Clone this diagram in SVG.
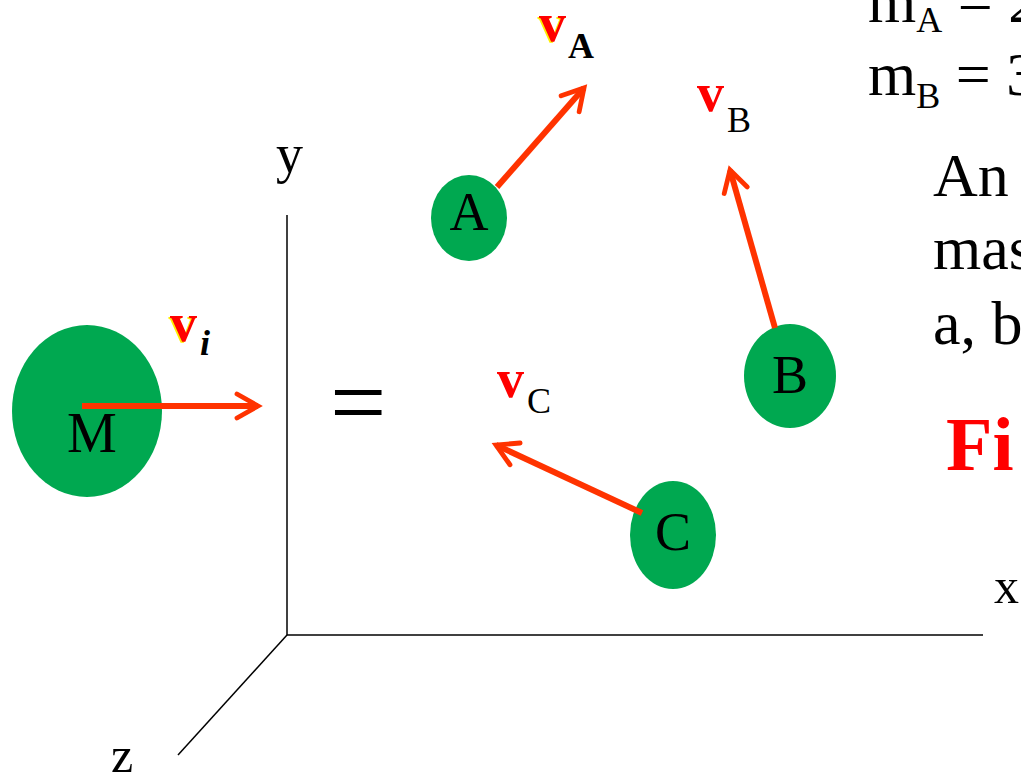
<svg xmlns="http://www.w3.org/2000/svg" width="1021" height="774" viewBox="0 0 1021 774">
<style>
.t{font-family:"Liberation Serif","Times New Roman",serif;fill:#000}
.ax{stroke:#000;stroke-width:1.5;fill:none}
.node{fill:#00A850}
.vel{stroke:#FF3300;stroke-width:6;fill:none;marker-end:url(#ah)}
.v{font-family:"Liberation Serif",serif;font-weight:bold;fill:#FF0000}
.vs{font-family:"Liberation Serif",serif;font-weight:bold;fill:#FFEE00}
</style>
<defs>
<marker id="ah" viewBox="0 0 10 10" refX="8" refY="5" markerWidth="5" markerHeight="5" orient="auto" markerUnits="strokeWidth">
<path d="M1,1 L8,5 L1,9" fill="none" stroke="#FF3300" stroke-width="1.6" stroke-linecap="round" stroke-linejoin="miter"/>
</marker>
</defs>
<rect width="1021" height="774" fill="#fff"/>
<g id="axes">
<line class="ax" x1="287" y1="215" x2="287" y2="635"/>
<line class="ax" x1="287" y1="635" x2="983" y2="635"/>
<line class="ax" x1="287" y1="635" x2="178" y2="755"/>
<text class="t" x="276" y="172" font-size="54">y</text>
<text class="t" x="994" y="603" font-size="50">x</text>
<text class="t" x="111" y="772" font-size="50">z</text>
<text class="t" x="330" y="436" font-size="100">=</text>
</g>
<g id="M">
<ellipse class="node" cx="87" cy="411" rx="75" ry="86"/>
<text class="t" x="92" y="452" font-size="56" text-anchor="middle">M</text>
</g>
<g id="A">
<ellipse class="node" cx="469" cy="218" rx="38" ry="43"/>
<text class="t" x="469" y="230" font-size="54" text-anchor="middle">A</text>
</g>
<g id="B">
<ellipse class="node" cx="790" cy="376" rx="46" ry="52"/>
<text class="t" x="790" y="393" font-size="54" text-anchor="middle">B</text>
</g>
<g id="C">
<ellipse class="node" cx="673" cy="535" rx="43" ry="54"/>
<text class="t" x="673" y="550" font-size="54" text-anchor="middle">C</text>
</g>
<g id="connectors">
<line class="vel" x1="82" y1="406" x2="258" y2="406"/>
<line class="vel" x1="497" y1="187" x2="584" y2="88"/>
<line class="vel" x1="775" y1="328" x2="730" y2="170"/>
<line class="vel" x1="642" y1="513" x2="496" y2="445"/>
</g>
<g id="labels">
<text class="vs" x="168.5" y="342" font-size="54">v</text>
<text class="v" x="170" y="341" font-size="54">v</text>
<text class="t" x="200" y="355" font-size="36" font-weight="bold" font-style="italic">i</text>
<text class="vs" x="537.5" y="42" font-size="54">v</text>
<text class="v" x="539" y="41" font-size="54">v</text>
<text class="t" x="568" y="58" font-size="36" font-weight="bold">A</text>
<text class="v" x="697" y="111" font-size="54">v</text>
<text class="t" x="727" y="132" font-size="36">B</text>
<text class="v" x="497" y="397" font-size="54">v</text>
<text class="t" x="527" y="413" font-size="36">C</text>
</g>
<g id="text">
<text class="t" x="868" y="22" font-size="62">m<tspan font-size="36" dy="10">A</tspan><tspan dy="-10"> = 2</tspan></text>
<text class="t" x="868" y="95" font-size="62">m<tspan font-size="36" dy="13">B</tspan><tspan dy="-13"> = 3</tspan></text>
<text class="t" x="933" y="196" font-size="62">An</text>
<text class="t" x="933" y="269" font-size="62">mas</text>
<text class="t" x="933" y="344" font-size="62">a, b</text>
<text x="946" y="470" font-size="76" font-weight="bold" font-family="Liberation Serif,serif" fill="#FF0000">Fi</text>
</g>
</svg>
